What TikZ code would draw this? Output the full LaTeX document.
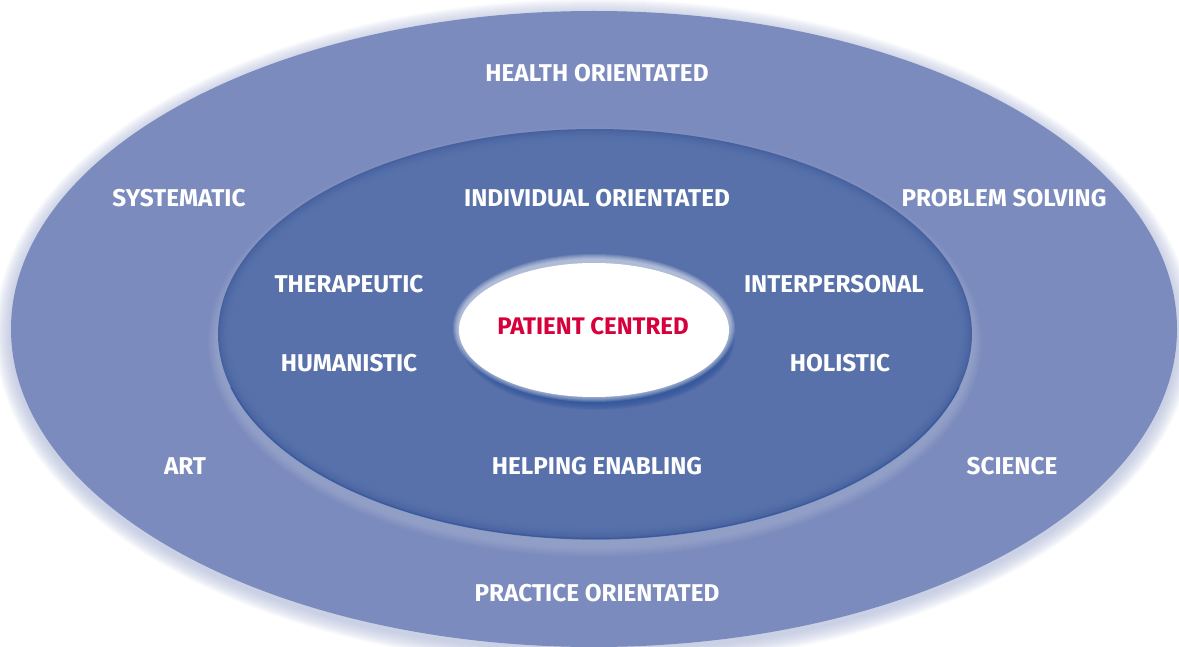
\documentclass[tikz,border=0pt]{standalone}
\usepackage{fontspec}
\setmainfont{Fira Sans}
\definecolor{outerblue}{HTML}{7B8BBD}
\definecolor{midblue}{HTML}{5B74AE}
\definecolor{rimblue}{HTML}{46629F}
\definecolor{shadeblue}{HTML}{2C5199}
\definecolor{centrered}{HTML}{D6003D}
\begin{document}
\begin{tikzpicture}[x=1pt,y=-1pt,
  lbl/.style={text=white,font=\fontsize{24.3}{28}\selectfont\bfseries,inner sep=0pt},
  core/.style={text=centrered,font=\fontsize{24}{28}\selectfont\bfseries,inner sep=0pt}]

\useasboundingbox (0,0) rectangle (1179,647);

\foreach \r in {1,...,16} \fill[outerblue!70, opacity=0.05] (594,333) ellipse ({583+\r} and {318+\r});
\fill[outerblue] (594,329) ellipse (583 and 318);

\foreach \r in {1,...,10} \fill[white, opacity=0.025] (595,342) ellipse ({377+\r} and {205+\r});
\fill[rimblue] (595,334) ellipse (377 and 205);
\foreach \r in {2,4,...,16} \fill[midblue, opacity=0.3] (595,334) ellipse ({377-\r} and {205-\r});
\draw[shadeblue, line width=1.2pt, opacity=0.7] (595,334) ++(15:377 and 205) arc[start angle=15, end angle=165, x radius=377, y radius=205];

\foreach \r in {1,...,8} \fill[shadeblue, opacity=0.14] (597,339) ellipse ({130+\r} and {63+\r});
\foreach \r in {1,...,6} \fill[white, opacity=0.12] (594,328) ellipse ({135+\r} and {68+\r});
\fill[white] (594,330) ellipse (135 and 67);

\node[lbl] (health) at (597,73) {HEALTH ORIENTATED};
\node[lbl] (systematic) at (179,198) {SYSTEMATIC};
\node[lbl] (individual) at (597,198) {INDIVIDUAL ORIENTATED};
\node[lbl] (problem) at (1004,198) {PROBLEM SOLVING};
\node[lbl] (therapeutic) at (349,284) {THERAPEUTIC};
\node[lbl] (interpersonal) at (834,284) {INTERPERSONAL};
\node[core] (patient) at (593,326) {PATIENT CENTRED};
\node[lbl] (humanistic) at (349,363) {HUMANISTIC};
\node[lbl] (holistic) at (840,363) {HOLISTIC};
\node[lbl] (art) at (185,466) {ART};
\node[lbl] (helping) at (597,466) {HELPING ENABLING};
\node[lbl] (science) at (1012,466) {SCIENCE};
\node[lbl] (practice) at (597,593) {PRACTICE ORIENTATED};

\end{tikzpicture}
\end{document}
